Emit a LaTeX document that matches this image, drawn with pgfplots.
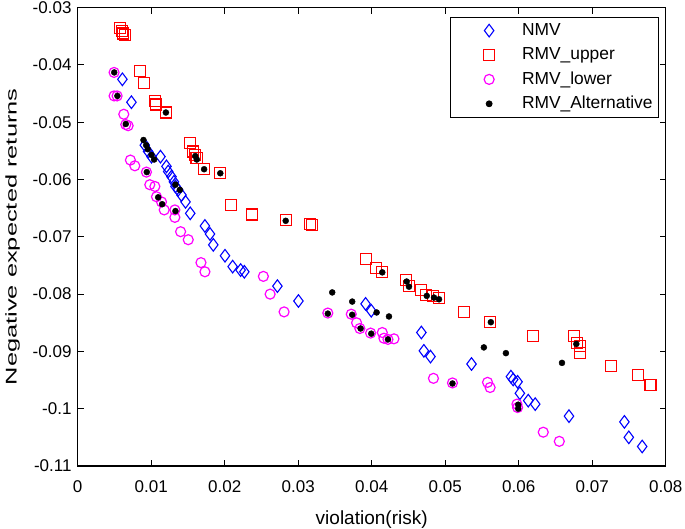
\documentclass[border=0pt]{standalone}
\usepackage{pgfplots}
\pgfplotsset{compat=1.18}
\usepackage{fontspec}
\setmainfont{Liberation Sans}
\usetikzlibrary{calc}
\definecolor{mmag}{RGB}{255,0,255}
\definecolor{mred}{RGB}{255,0,0}
\definecolor{mblue}{RGB}{0,0,255}
\begin{document}
\begin{tikzpicture}
\begin{axis}[
  width=588pt, height=458.3pt, scale only axis,
  xmin=0, xmax=0.08, ymin=-0.11, ymax=-0.03,
  xtick={0,0.01,0.02,0.03,0.04,0.05,0.06,0.07,0.08},
  ytick={-0.11,-0.1,-0.09,-0.08,-0.07,-0.06,-0.05,-0.04,-0.03},
  scaled ticks=false,
  /pgf/number format/assume math mode=true,
  /pgf/number format/fixed, /pgf/number format/precision=2,
  tick label style={font=\fontsize{17}{20}\selectfont},
  xticklabel style={anchor=north, inner sep=0pt, yshift=-14.7pt},
  yticklabel style={anchor=east, inner sep=0pt, xshift=-6pt},
  tick align=inside, major tick length=6pt,
  tick style={black, line width=1pt},
  axis line style={black, line width=1.2pt},
  xlabel={violation(risk)},
  xlabel style={at={($(rel axis cs:0.5,0)+(0pt,-44.7pt)$)}, anchor=north, inner sep=0pt, font=\fontsize{19}{22}\selectfont},
  ylabel={\scalebox{1.64}[1]{Negative expected returns}},
  ylabel style={at={($(rel axis cs:0,0.5)+(-57.7pt,0pt)$)}, rotate=0, anchor=south, inner sep=0pt, font=\fontsize{15.5}{18}\selectfont},
  legend style={at={(rel axis cs:0.9886,0.9797)}, anchor=north east, draw=black, line width=0.8pt, fill=white,
    font=\fontsize{17.4}{20}\selectfont, inner xsep=6pt, inner ysep=1pt, row sep=0pt, column sep=26pt,
    nodes={inner sep=0pt, text height=14pt, text depth=4pt}},
  legend cell align=left,
  legend image code/.code={\path (0pt,-11.8pt) (39pt,11.8pt); \draw[#1] plot coordinates {(32.5pt,0pt)};},
]
\coordinate (A) at (rel axis cs:0,0);
\coordinate (B) at (rel axis cs:1,1);
\addplot[only marks, mark=diamond, mark size=6.3pt, mblue, mark options={line width=1.1pt}] coordinates {
(0.00608,-0.0425) (0.00731,-0.0465) (0.00913,-0.0540) (0.00958,-0.0551) (0.01004,-0.0560)
(0.01126,-0.0560) (0.01208,-0.0577) (0.01231,-0.0586) (0.01276,-0.0595) (0.01309,-0.0604)
(0.0133,-0.0612) (0.01367,-0.0618) (0.01412,-0.0627) (0.01467,-0.0639) (0.01531,-0.0659)
(0.01731,-0.0681) (0.0180,-0.0695) (0.01845,-0.0714) (0.02004,-0.0733) (0.02108,-0.0752)
(0.02217,-0.0758) (0.02267,-0.0761) (0.02717,-0.0786) (0.03003,-0.0812) (0.03917,-0.0817)
(0.03994,-0.0829) (0.04676,-0.0867) (0.0471,-0.0899) (0.0480,-0.0909) (0.05358,-0.0922)
(0.05894,-0.0944) (0.05925,-0.0949) (0.05985,-0.0953) (0.06016,-0.0973) (0.0613,-0.0986)
(0.06225,-0.0992) (0.06684,-0.1013) (0.07438,-0.1023) (0.07498,-0.1050) (0.0768,-0.1066)
};
\addlegendentry{NMV}
\addplot[only marks, mark=square, mark size=5.5pt, mred, mark options={line width=1.1pt}] coordinates {
(0.0058,-0.0336) (0.0060,-0.0341) (0.0062,-0.0345) (0.0064,-0.0347) (0.00845,-0.0410)
(0.00904,-0.0432) (0.0105,-0.0463) (0.01067,-0.0469) (0.0120,-0.0483) (0.01531,-0.0536)
(0.01572,-0.0551) (0.01595,-0.0557) (0.01617,-0.0563) (0.01722,-0.0582) (0.01936,-0.0589)
(0.02086,-0.0644) (0.02376,-0.0661) (0.0283,-0.0671) (0.03158,-0.0677) (0.0319,-0.0680)
(0.03917,-0.0739) (0.04053,-0.0755) (0.04144,-0.0762) (0.04462,-0.0776) (0.04507,-0.0786)
(0.04667,-0.0793) (0.04735,-0.0801) (0.0484,-0.0804) (0.04916,-0.0807) (0.05257,-0.0831)
(0.05611,-0.0848) (0.06189,-0.0873) (0.06757,-0.0873) (0.0679,-0.0886) (0.06834,-0.0890)
(0.06834,-0.0902) (0.07257,-0.0925) (0.07629,-0.0941) (0.07793,-0.0958)
};
\addlegendentry{RMV\_upper}
\addplot[only marks, mark=o, mark size=5pt, mmag, mark options={line width=1.2pt}] coordinates {
(0.00495,-0.0413) (0.00495,-0.0454) (0.00536,-0.0454) (0.00627,-0.0486) (0.00654,-0.0504)
(0.00686,-0.0506) (0.00717,-0.0566) (0.00777,-0.0576) (0.00935,-0.0587) (0.00981,-0.0609)
(0.0105,-0.0612) (0.01072,-0.0630) (0.0114,-0.0639) (0.01177,-0.0653) (0.01322,-0.0653)
(0.01322,-0.0666) (0.0140,-0.0691) (0.01504,-0.0705) (0.01677,-0.0745) (0.01731,-0.0761)
(0.02526,-0.0769) (0.02618,-0.0800) (0.02808,-0.0831) (0.03403,-0.0833) (0.03722,-0.0835)
(0.03794,-0.0850) (0.03839,-0.0860) (0.03985,-0.0868) (0.04144,-0.0867) (0.04166,-0.0877)
(0.04221,-0.0879) (0.04303,-0.0878) (0.0484,-0.0947) (0.05099,-0.0955) (0.05576,-0.0954)
(0.05611,-0.0963) (0.05976,-0.0992) (0.05985,-0.0998) (0.06334,-0.1041) (0.06552,-0.1057)
};
\addlegendentry{RMV\_lower}
\addplot[only marks, mark=*, mark size=3pt, black] coordinates {
(0.00497,-0.0413) (0.0054,-0.0454) (0.00654,-0.0503) (0.00895,-0.0531) (0.00931,-0.0540)
(0.00954,-0.0547) (0.01004,-0.0557) (0.0104,-0.0565) (0.0120,-0.0483) (0.0160,-0.0559)
(0.0162,-0.0565) (0.0172,-0.0582) (0.0194,-0.0589) (0.00940,-0.0587) (0.01095,-0.0631)
(0.01149,-0.0643) (0.0133,-0.0609) (0.0139,-0.0618) (0.0133,-0.0655) (0.0283,-0.0672)
(0.03463,-0.0797) (0.03735,-0.0813) (0.03403,-0.0834) (0.03735,-0.0836) (0.03849,-0.0860)
(0.03994,-0.0869) (0.04067,-0.0832) (0.04235,-0.0839) (0.04221,-0.0879) (0.04144,-0.0762)
(0.04476,-0.0778) (0.04507,-0.0787) (0.04749,-0.0803) (0.04848,-0.0806) (0.04916,-0.0809)
(0.05099,-0.0956) (0.05526,-0.0893) (0.05826,-0.0903) (0.05621,-0.0849) (0.05993,-0.0993)
(0.05993,-0.1000) (0.06589,-0.0920) (0.06784,-0.0887)
};
\addlegendentry{RMV\_Alternative}
\end{axis}
\pgfresetboundingbox
\path ([shift={(-77.7pt,-63pt)}]A) rectangle ([shift={(19.3pt,7.7pt)}]B);
\end{tikzpicture}
\end{document}
